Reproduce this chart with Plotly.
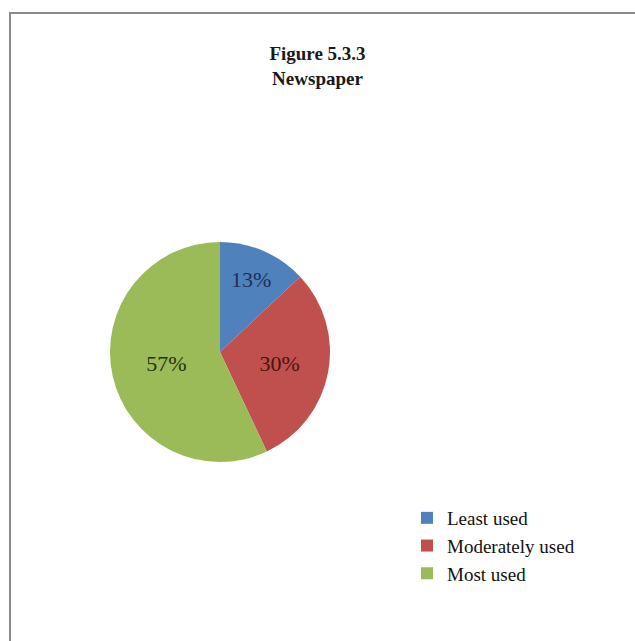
import plotly.graph_objects as go

labels = ["Least used", "Moderately used", "Most used"]
values = [13, 30, 57]
colors = ["#4F81BD", "#C0504D", "#9BBB59"]
text_colors = ["#1F2F5A", "#4A1412", "#25350F"]

W, H = 635, 641
cx, cy, r = 220, 352, 110

fig = go.Figure(go.Pie(
    labels=labels,
    values=values,
    sort=False,
    direction="clockwise",
    rotation=0,
    marker=dict(colors=colors, line=dict(color="#FFFFFF", width=0)),
    texttemplate="%{percent:.0%}",
    textposition="inside",
    insidetextorientation="horizontal",
    insidetextfont=dict(family="Liberation Serif", size=22, color=text_colors),
    domain=dict(x=[(cx - r) / W, (cx + r) / W], y=[1 - (cy + r) / H, 1 - (cy - r) / H]),
    hoverinfo="label+percent",
))

fig.update_layout(
    width=W, height=H,
    margin=dict(l=0, r=0, t=0, b=0),
    paper_bgcolor="white",
    plot_bgcolor="white",
    title=dict(
        text="<b>Figure 5.3.3<br>Newspaper</b>",
        x=0.5, xanchor="center", y=1 - 60 / H, yanchor="top",
        font=dict(family="Liberation Serif", size=19, color="#1a1a1a"),
    ),
    legend=dict(
        x=407 / W, xanchor="left", y=1 - 499 / H, yanchor="top",
        font=dict(family="Liberation Serif", size=19, color="#111111"),
        bgcolor="rgba(0,0,0,0)",
        itemwidth=30,
    ),
    shapes=[
        dict(type="rect", xref="paper", yref="paper",
             x0=10 / W, x1=1.02, y0=-0.02, y1=1 - 13 / H,
             line=dict(color="#8A8A8A", width=2), fillcolor="rgba(0,0,0,0)"),
    ],
)

fig.write_html("out.html")
